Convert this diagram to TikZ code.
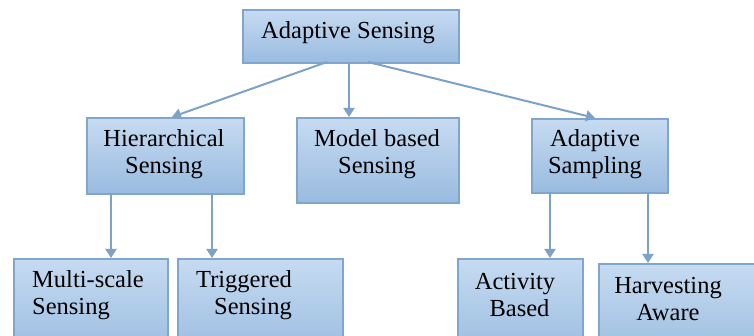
\documentclass[tikz,border=0pt]{standalone}
\usepackage{fontspec}
\setmainfont{Liberation Serif}
\newfontfamily\boxfont{Liberation Serif}
\usetikzlibrary{arrows.meta}
\definecolor{boxtop}{HTML}{C6DBF1}
\definecolor{boxbot}{HTML}{99BBE0}
\definecolor{boxedge}{HTML}{80A6CE}
\definecolor{linkcol}{HTML}{7DA2C8}
\tikzset{
  box/.style={draw=boxedge, line width=1.6pt, top color=boxtop, bottom color=boxbot,
    anchor=north west, inner sep=0pt},
  lbl/.style={font=\boxfont\fontsize{24.5}{27.5}\selectfont, inner sep=0pt, align=center},
  link/.style={draw=linkcol, line width=2pt, -{Triangle[length=9pt,width=11pt]}}
}
\begin{document}
\begin{tikzpicture}[x=1pt,y=-1pt]
\clip (0,0) rectangle (754,336);
\useasboundingbox (0,0) rectangle (754,336);
\fill[white] (0,0) rectangle (754,336);

% boxes
\node[box, minimum width=216pt, minimum height=53pt] (root) at (242,9) {};
\node[box, minimum width=157pt, minimum height=76pt] (hier) at (86,117) {};
\node[box, minimum width=162pt, minimum height=85pt] (model) at (296,117) {};
\node[box, minimum width=136pt, minimum height=74pt] (samp) at (531,118) {};
\node[box, minimum width=154pt, minimum height=100pt] (multi) at (13,258) {};
\node[box, minimum width=165pt, minimum height=100pt] (trig) at (177,258) {};
\node[box, minimum width=125pt, minimum height=100pt] (act) at (457,258) {};
\node[box, minimum width=170pt, minimum height=100pt] (harv) at (598,263) {};

% labels
\node[lbl] (trootl) at (348,33) {Adaptive Sensing};
\node[lbl] (thierl) at (164,154) {Hierarchical\\Sensing};
\node[lbl] (tmodell) at (377,154) {Model based\\Sensing};
\node[lbl] (tsampl) at (595,154) {Adaptive\\Sampling};
\node[lbl, align=left, anchor=west] (tmultil) at (32,295) {Multi-scale\\Sensing};
\node[lbl] (ttrigl) at (244,295) {Triggered\\\hspace*{18pt}Sensing};
\node[lbl] (tactl) at (515,295) {Activity\\\hspace*{9pt}Based};
\node[lbl] (tharvl) at (668,299) {Harvesting\\Aware};

% connectors
\coordinate (r1) at (327,62);
\coordinate (r2) at (349,62);
\coordinate (r3) at (368,62);
\coordinate (h1) at (172,117);
\coordinate (m1) at (349,117);
\coordinate (s1) at (595,118);
\coordinate (hb1) at (111,193);
\coordinate (hb2) at (212,193);
\coordinate (mt1) at (111,258);
\coordinate (tt1) at (212,258);
\coordinate (sb1) at (550,192);
\coordinate (sb2) at (648,192);
\coordinate (at1) at (550,258);
\coordinate (ht1) at (648,263);

\draw[link] (r1) -- (h1);
\draw[link] (r2) -- (m1);
\draw[link] (r3) -- (s1);
\draw[link] (hb1) -- (mt1);
\draw[link] (hb2) -- (tt1);
\draw[link] (sb1) -- (at1);
\draw[link] (sb2) -- (ht1);
\end{tikzpicture}
\end{document}
